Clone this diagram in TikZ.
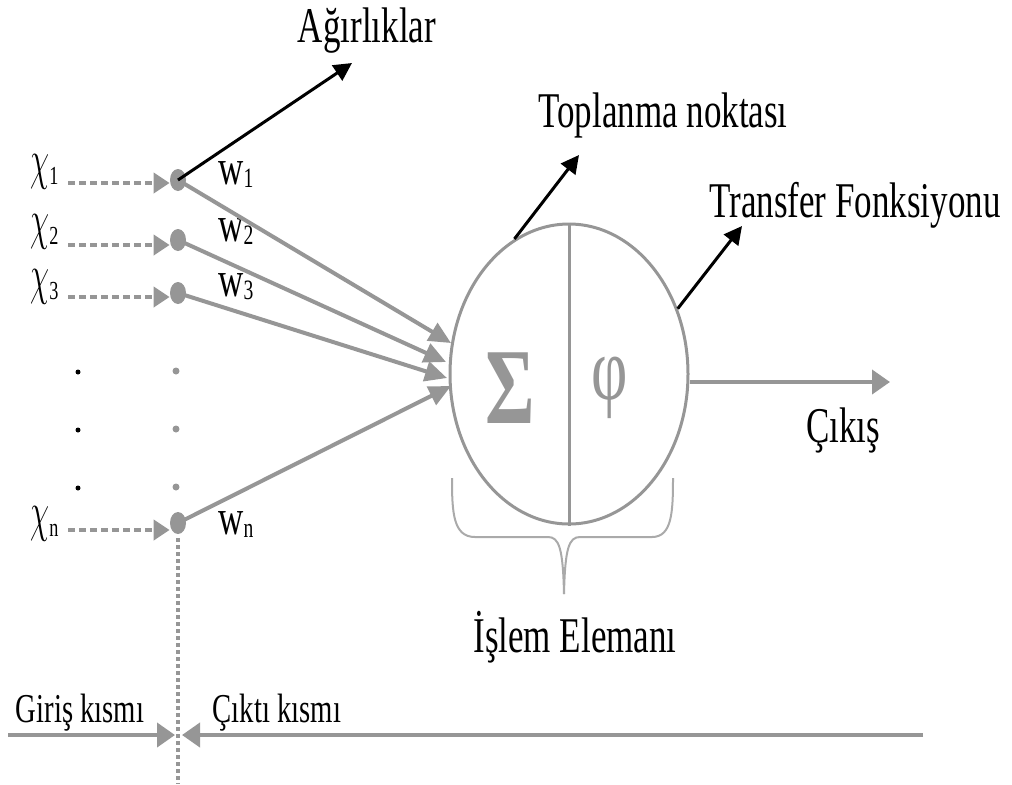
\documentclass[tikz,border=0pt]{standalone}
\usepackage{fontspec}
\setmainfont{Liberation Serif}[FakeStretch=0.7]
\usetikzlibrary{arrows.meta,shapes.geometric,calc}
\definecolor{gcol}{RGB}{150,150,150}
\definecolor{bcol}{RGB}{170,170,170}
\newcommand{\chiglyph}{\scalebox{0.62}[1.12]{$\chi$}}
\newcommand{\chisub}[1]{\raisebox{-3pt}{\fontsize{13}{13}\selectfont #1}}
\newcommand{\wsub}[1]{\raisebox{-1.5pt}{\fontsize{14}{14}\selectfont #1}}
\begin{document}
\begin{tikzpicture}[x=0.5pt,y=-0.5pt,
  lbl/.style={inner sep=0pt, font=\fontsize{25}{25}\selectfont, text=black},
  smalllbl/.style={inner sep=0pt, font=\fontsize{20.5}{20.5}\selectfont, text=black},
  inpt/.style={ellipse, fill=gcol, minimum width=8pt, minimum height=11pt, inner sep=0pt},
  gdot/.style={circle, fill=gcol, minimum size=3.5pt, inner sep=0pt},
  bdot/.style={circle, fill=black, minimum size=2.5pt, inner sep=0pt},
  dasharr/.style={draw=gcol, line width=2pt, dash pattern=on 3.5pt off 2pt, -{Triangle[length=8pt,width=10pt,fill=gcol]}},
  warr/.style={draw=gcol, line width=2pt, -{Triangle[length=11pt,width=10pt,fill=gcol]}},
  blkarr/.style={draw=black, line width=1.5pt, -{Triangle[length=9pt,width=9pt]}},
  outarr/.style={draw=gcol, line width=2pt, -{Triangle[length=9pt,width=12pt,fill=gcol]}},
  pebox/.style={ellipse, draw=gcol, line width=1.5pt, minimum width=119pt, minimum height=150pt, inner sep=0pt},
  bracestyle/.style={draw=bcol, line width=1pt},
  dotline/.style={draw=gcol, line width=2pt, dash pattern=on 2pt off 1.5pt}
]
\useasboundingbox (0,0) rectangle (1012,784);

% input dots
\node[inpt] (n1) at (178,180) {};
\node[inpt] (n2) at (178,240) {};
\node[inpt] (n3) at (178,293) {};
\node[inpt] (nn) at (178,523) {};

% input labels
\node[lbl, anchor=base west] (c1) at (30,178) {\chiglyph\chisub{1}};
\node[lbl, anchor=base west] (c2) at (30,238) {\chiglyph\chisub{2}};
\node[lbl, anchor=base west] (c3) at (30,293) {\chiglyph\chisub{3}};
\node[lbl, anchor=base west] (cn) at (30,530) {\chiglyph\chisub{n}};

% vertical ellipsis dots
\node[bdot] (b1) at (78,372) {};
\node[bdot] (b2) at (78,430) {};
\node[bdot] (b3) at (78,488) {};
\node[gdot] (g1) at (176,371) {};
\node[gdot] (g2) at (176,429) {};
\node[gdot] (g3) at (176,487) {};

% weights
\node[lbl, anchor=base west] (w1) at (218,184) {w\wsub{1}};
\node[lbl, anchor=base west] (w2) at (218,241) {w\wsub{2}};
\node[lbl, anchor=base west] (w3) at (218,296) {w\wsub{3}};
\node[lbl, anchor=base west] (wn) at (218,534) {w\wsub{n}};

% processing element
\node[pebox] (pe) at (569,374) {};
\draw[draw=gcol, line width=1.5pt] (pe.north) -- (pe.south);
\node[inner sep=0pt, text=gcol, font=\fontsize{54}{54}\selectfont\bfseries] (sig) at (510,388) {Σ};
\node[inner sep=0pt, text=gcol, font=\fontsize{45}{45}\selectfont] (phi) at (610,388) {φ};

% dashed input arrows
\draw[dasharr] (68,183) -- ([yshift=-1.5pt]n1.west);
\draw[dasharr] (68,245) -- ([yshift=-2.5pt]n2.west);
\draw[dasharr] (68,297) -- ([yshift=-2pt]n3.west);
\draw[dasharr] (68,530) -- ([yshift=-3.5pt]nn.west);

% weighted connections
\coordinate (t1) at (451,343);
\coordinate (t2) at (446,362);
\coordinate (t3) at (447,378);
\coordinate (t4) at (451,386);
\draw[warr] (n1.center) -- (t1);
\draw[warr] (n2.center) -- (t2);
\draw[warr] (n3.center) -- (t3);
\draw[warr] (nn.center) -- (t4);

% annotation labels
\node[lbl, anchor=base] (agir) at (367,42) {Ağırlıklar};
\node[lbl, anchor=base] (topl) at (663,127) {Toplanma noktası};
\node[lbl, anchor=base] (trans) at (855,217) {Transfer Fonksiyonu};
\node[lbl, anchor=base] (cikis) at (843,442) {Çıkış};
\node[lbl, anchor=base] (islem) at (575,652) {İşlem Elemanı};

\coordinate (agtip) at (352,63);
\coordinate (totip) at (579,155);
\coordinate (trtip) at (742,226);
\draw[blkarr] (n1.center) -- (agtip);
\draw[blkarr] (pe.112) -- (totip);
\draw[blkarr] (pe.31) -- (trtip);

% output
\coordinate (outtip) at (890,382);
\draw[outarr] (pe.east |- outtip) -- (outtip);

% brace
\draw[bracestyle] (452,478) .. controls (452,512) and (453,537) .. (475,537) -- (548,537)
  .. controls (559,537) and (563,548) .. (564,594);
\draw[bracestyle] (673,478) .. controls (673,512) and (672,537) .. (652,537) -- (580,537)
  .. controls (569,537) and (565,548) .. (564,594);

% bottom section
\coordinate (vtop) at (178,538);
\coordinate (vbot) at (178,784);
\draw[dotline] (vtop) -- (vbot);
\coordinate (lstart) at (8,735);
\coordinate (ltip) at (175,735);
\coordinate (rstart) at (923,735);
\coordinate (rtip) at (182,735);
\draw[outarr] (lstart) -- (ltip);
\draw[outarr] (rstart) -- (rtip);
\node[smalllbl, anchor=base] (giris) at (80,722) {Giriş kısmı};
\node[smalllbl, anchor=base] (cikti) at (277,722) {Çıktı kısmı};
\end{tikzpicture}
\end{document}
